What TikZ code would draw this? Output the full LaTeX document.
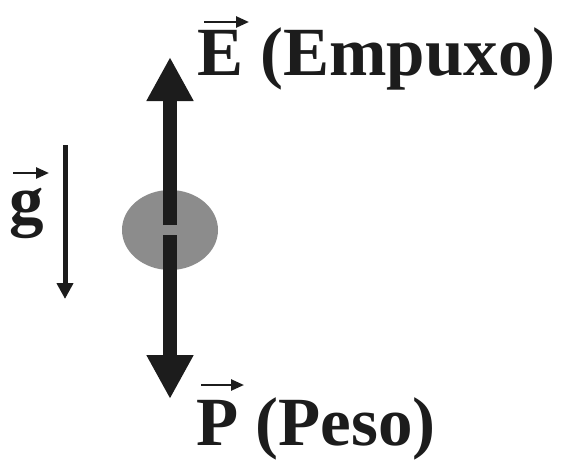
\documentclass[tikz,border=0pt]{standalone}
\usepackage{fontspec}
\setmainfont{Liberation Serif}
\usetikzlibrary{arrows.meta,shapes.geometric}
\definecolor{arrowblack}{HTML}{1C1C1C}
\definecolor{ballgray}{HTML}{8C8C8C}
\begin{document}
\begin{tikzpicture}[x=1pt,y=-1pt,
  force/.style={draw=arrowblack,line width=14pt,-{Triangle[width=44pt,length=44pt]}},
  gvec/.style={draw=arrowblack,line width=5pt,-{Triangle[width=16pt,length=16pt]}},
  vecarrow/.style={draw=arrowblack,line width=2.5pt,-{Triangle[width=11pt,length=13pt]}},
  lbl/.style={inner sep=0pt,font=\fontsize{69}{73}\selectfont\bfseries,text=arrowblack}]
\useasboundingbox (0,0) rectangle (561,460);
% ball
\node[ellipse,fill=ballgray,minimum width=96pt,minimum height=80pt,inner sep=0pt] (ball) at (170,230) {};
% force arrows
\coordinate (etop) at (170,225);
\coordinate (etip) at (170,57);
\coordinate (pbot) at (170,235);
\coordinate (ptip) at (170,399);
\draw[force] (etop) -- (etip);
\draw[force] (pbot) -- (ptip);
% labels
\node[lbl,anchor=base west] (E) at (197,75) {E (Empuxo)};
\coordinate (ea) at (204,22);
\coordinate (eb) at (249,22);
\draw[vecarrow] (ea) -- (eb);
\node[lbl,anchor=base west] (P) at (196,445) {P (Peso)};
\coordinate (pa) at (201,385);
\coordinate (pb) at (244,385);
\draw[vecarrow] (pa) -- (pb);
% g
\coordinate (gtop) at (65,145);
\coordinate (gtip) at (65,299);
\draw[gvec] (gtop) -- (gtip);
\node[lbl,anchor=base] (g) at (27,223) {g};
\coordinate (ga) at (13,173);
\coordinate (gb) at (49,173);
\draw[vecarrow] (ga) -- (gb);
\end{tikzpicture}
\end{document}
